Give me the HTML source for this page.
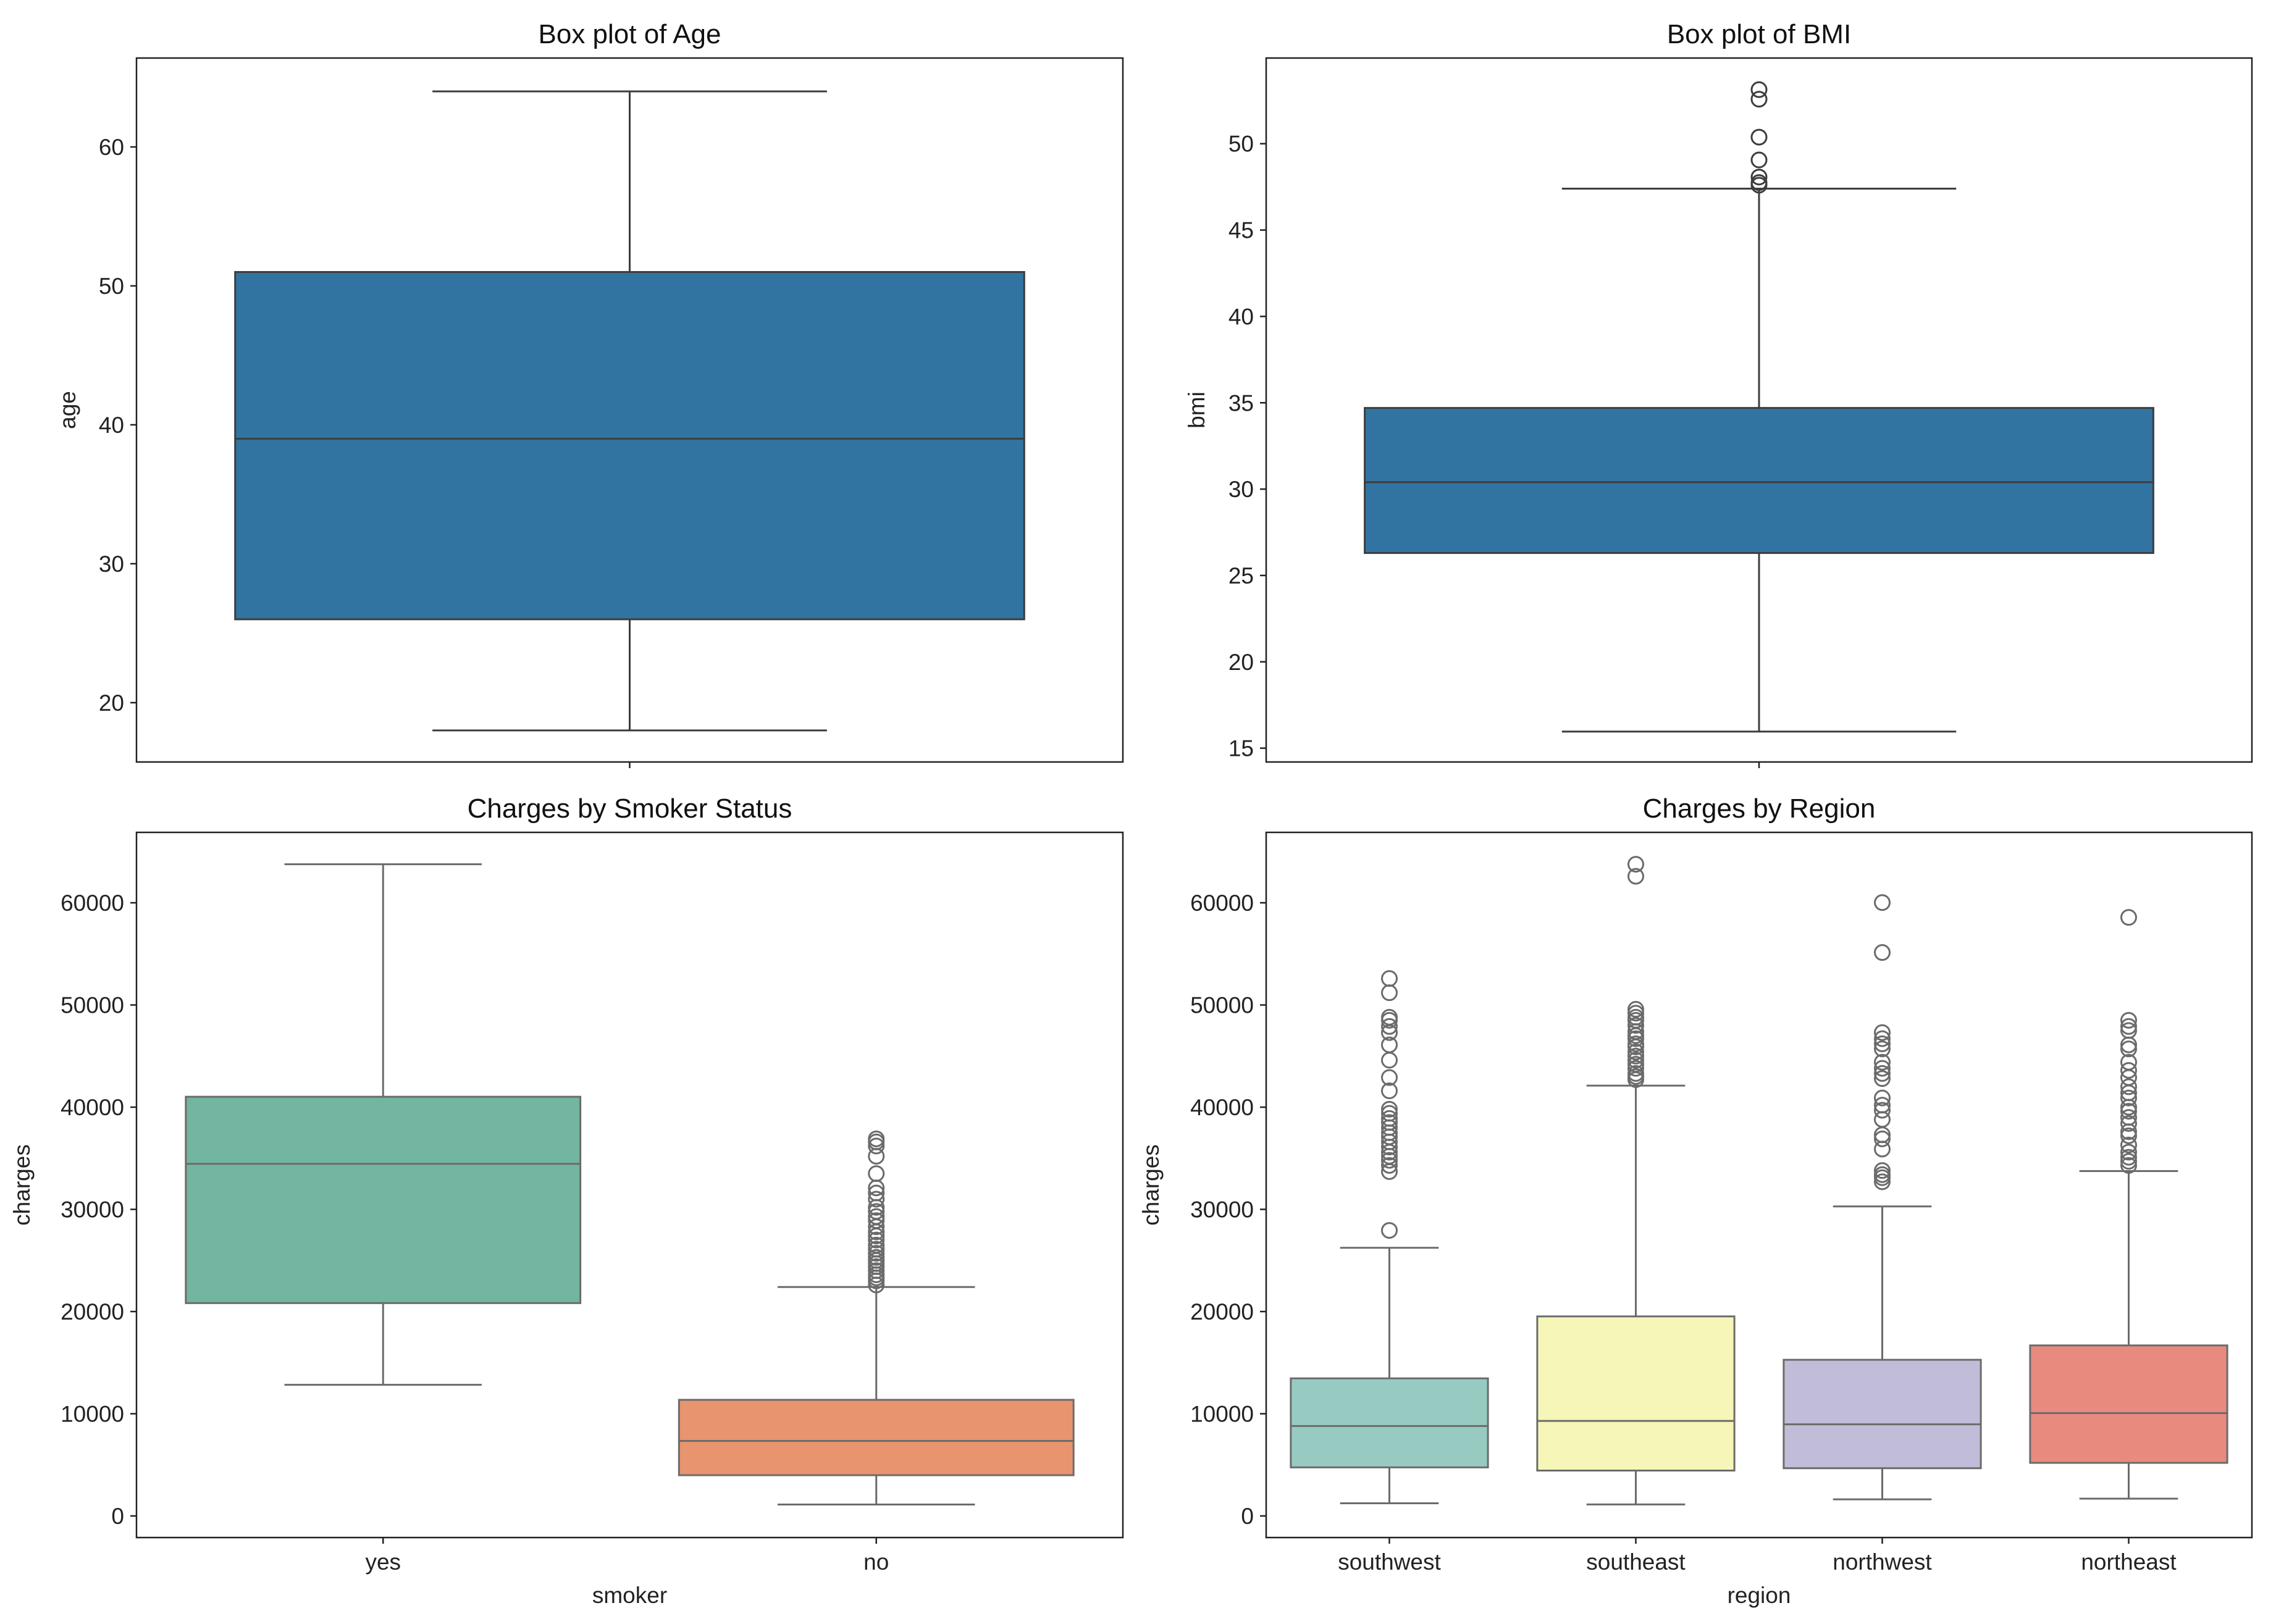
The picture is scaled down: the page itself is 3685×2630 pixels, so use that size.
<!DOCTYPE html>
<html><head><meta charset="utf-8">
<style>
html,body{margin:0;padding:0;background:#fff;}
svg{display:block;font-family:"Liberation Sans",sans-serif;}
</style></head>
<body>
<svg id="fig" width="3685" height="2630" viewBox="0 0 3685 2630" xmlns="http://www.w3.org/2000/svg"></svg>
<script>
// ---- Data ----
const ageStats = [18, 26, 39, 51, 64]; // low whisker, Q1, median, Q3, high whisker
const ageOutliers = [];
const ageTicks = [20, 30, 40, 50, 60];

const bmiStats = [15.96, 26.3, 30.4, 34.7, 47.4];
const bmiOutliers = [47.6, 47.75, 48.07, 49.06, 50.38, 52.58, 53.13];
const bmiTicks = [15, 20, 25, 30, 35, 40, 45, 50];

const smokerCats = ["yes", "no"];
const smokerStats = [
  [12829, 20826, 34456, 41019, 63770],
  [1121, 3986, 7345, 11362, 22400]
];
const smokerOutliers = [
  [],
  [22600, 23000, 23300, 23600, 24000, 24400, 24700, 25000, 25300, 25700, 26100, 26500, 27000, 27400, 27800, 28300, 28900, 29300, 29800, 30200, 31000, 31600, 32100, 33500, 35200, 36200, 36600, 36900]
];

const regionCats = ["southwest", "southeast", "northwest", "northeast"];
const regionStats = [
  [1242, 4751, 8798, 13463, 26236],
  [1122, 4441, 9294, 19526, 42112],
  [1621, 4670, 8966, 15280, 30284],
  [1695, 5194, 10058, 16687, 33750]
];
const regionOutliers = [
  [27940, 33700, 34300, 34800, 35200, 35600, 36100, 36600, 37100, 37500, 38000, 38500, 38900, 39400, 39800, 41600, 42900, 44600, 46100, 47300, 47900, 48500, 48800, 51200, 52590],
  [42700, 43000, 43300, 43800, 44200, 44600, 45000, 45400, 45900, 46200, 46700, 47000, 47400, 48000, 48500, 48800, 49200, 49577, 62593, 63770],
  [32700, 33100, 33400, 33800, 35900, 36900, 37300, 38800, 39700, 40200, 40900, 42800, 43300, 43800, 44400, 45700, 46200, 46700, 47300, 55135, 60021],
  [34300, 34700, 35100, 35600, 36300, 37200, 37600, 38400, 39000, 39600, 40000, 40900, 41400, 42000, 42900, 43600, 44400, 45700, 46100, 47500, 47900, 48500, 58571]
];
const chargeTicks = [0, 10000, 20000, 30000, 40000, 50000, 60000];

// ---- Helpers ----
const NS = "http://www.w3.org/2000/svg";
const fig = document.getElementById("fig");
function mk(tag, attrs, parent, text) {
  const e = document.createElementNS(NS, tag);
  for (const k in attrs) e.setAttribute(k, attrs[k]);
  if (text !== undefined) e.textContent = text;
  (parent || fig).appendChild(e);
  return e;
}

function panel(cfg) {
  const g = mk("g", {});
  
  
  const {x0, x1, y0, y1, dmin, dmax} = cfg;
  const ys = v => y1 - (v - dmin) / (dmax - dmin) * (y1 - y0);
  const n = cfg.stats.length;
  const cw = (x1 - x0) / n;
  const xc = i => x0 + cw * (i + 0.5);

  // title
  const t = mk("text", {x: (x0 + x1) / 2, y: y0 - 24, "text-anchor": "middle", "font-size": 44, fill: "#111"}, g, cfg.title);
  
  

  // y ticks
  cfg.ticks.forEach(v => {
    const y = ys(v);
    const tk = mk("line", {x1: x0 - 10, x2: x0, y1: y, y2: y, stroke: "#222", "stroke-width": 2.5}, g);
    
    
    const tl = mk("text", {x: x0 - 20, y: y + 13, "text-anchor": "end", "font-size": 37, fill: "#222"}, g, String(v));
    
    
  });
  // y label
  const yl = mk("text", {x: cfg.ylx, y: (y0 + y1) / 2, "text-anchor": "middle", "font-size": 37, fill: "#222", transform: `rotate(-90 ${cfg.ylx} ${(y0 + y1) / 2})`}, g, cfg.ylabel);
  
  

  // boxes
  cfg.stats.forEach((s, i) => {
    const c = xc(i);
    const bw = cw * 0.8, cap = cw * 0.4;
    const col = cfg.colors[i], lc = cfg.line;
    const bg = mk("g", {}, g);
    
    
    mk("line", {x1: c, x2: c, y1: ys(s[0]), y2: ys(s[1]), stroke: lc, "stroke-width": 3}, bg);
    mk("line", {x1: c, x2: c, y1: ys(s[3]), y2: ys(s[4]), stroke: lc, "stroke-width": 3}, bg);
    mk("line", {x1: c - cap / 2, x2: c + cap / 2, y1: ys(s[0]), y2: ys(s[0]), stroke: lc, "stroke-width": 3}, bg);
    mk("line", {x1: c - cap / 2, x2: c + cap / 2, y1: ys(s[4]), y2: ys(s[4]), stroke: lc, "stroke-width": 3}, bg);
    mk("rect", {x: c - bw / 2, y: ys(s[3]), width: bw, height: ys(s[1]) - ys(s[3]), fill: col, stroke: lc, "stroke-width": 3}, bg);
    mk("line", {x1: c - bw / 2, x2: c + bw / 2, y1: ys(s[2]), y2: ys(s[2]), stroke: lc, "stroke-width": 3}, bg);
    (cfg.outliers[i] || []).forEach(v => {
      const o = mk("circle", {cx: c, cy: ys(v), r: 12, fill: "none", stroke: lc, "stroke-width": 3}, bg);
      
      
    });
    // x tick
    mk("line", {x1: c, x2: c, y1: y1, y2: y1 + 10, stroke: "#222", "stroke-width": 2.5}, g);
    if (cfg.cats) {
      const xl = mk("text", {x: c, y: y1 + 52, "text-anchor": "middle", "font-size": 37, fill: "#222"}, g, cfg.cats[i]);
      
      
    }
  });
  if (cfg.xlabel) {
    const xt = mk("text", {x: (x0 + x1) / 2, y: y1 + 106, "text-anchor": "middle", "font-size": 37, fill: "#222"}, g, cfg.xlabel);
    
    
  }
  const fr = mk("rect", {x: x0, y: y0, width: x1 - x0, height: y1 - y0, fill: "none", stroke: "#222", "stroke-width": 2.5}, g);
  
  
}

panel({name: "age-boxplot", title: "Box plot of Age", x0: 221, x1: 1818, y0: 94, y1: 1234,
  dmin: 15.73, dmax: 66.4, ticks: ageTicks, stats: [ageStats], outliers: [ageOutliers],
  colors: ["#3274a1"], line: "#3d3d3d", ylabel: "age", ylx: 122});
panel({name: "bmi-boxplot", title: "Box plot of BMI", x0: 2050, x1: 3646, y0: 94, y1: 1234,
  dmin: 14.2, dmax: 54.96, ticks: bmiTicks, stats: [bmiStats], outliers: [bmiOutliers],
  colors: ["#3274a1"], line: "#3d3d3d", ylabel: "bmi", ylx: 1950});
panel({name: "smoker-boxplot", title: "Charges by Smoker Status", x0: 221, x1: 1818, y0: 1348, y1: 2490,
  dmin: -2115, dmax: 66890, ticks: chargeTicks, stats: smokerStats, outliers: smokerOutliers, cats: smokerCats,
  colors: ["#72b5a0", "#e8946f"], line: "#6b6b6b", ylabel: "charges", ylx: 48, xlabel: "smoker"});
panel({name: "region-boxplot", title: "Charges by Region", x0: 2050, x1: 3646, y0: 1348, y1: 2490,
  dmin: -2115, dmax: 66890, ticks: chargeTicks, stats: regionStats, outliers: regionOutliers, cats: regionCats,
  colors: ["#97cbc1", "#f6f6b8", "#c1bdd8", "#e98a7e"], line: "#6b6b6b", ylabel: "charges", ylx: 1876, xlabel: "region"});
</script>
</body></html>
